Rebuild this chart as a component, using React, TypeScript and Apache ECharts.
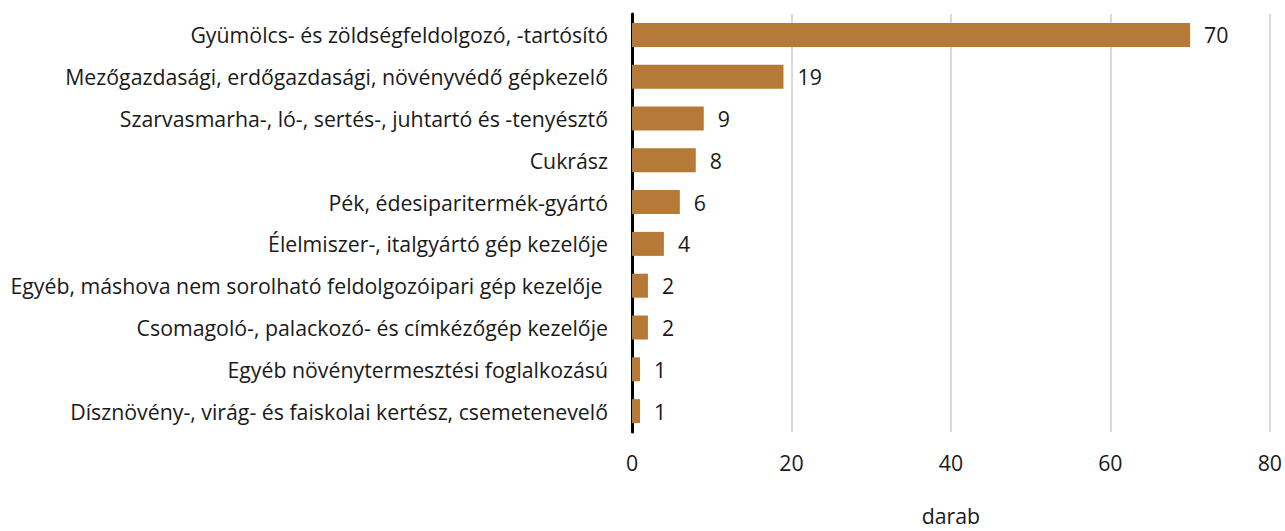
import React, { useEffect, useRef } from "react";
import * as echarts from "echarts";

const categories = [
  "Gyümölcs- és zöldségfeldolgozó, -tartósító",
  "Mezőgazdasági, erdőgazdasági, növényvédő gépkezelő",
  "Szarvasmarha-, ló-, sertés-, juhtartó és -tenyésztő",
  "Cukrász",
  "Pék, édesiparitermék-gyártó",
  "Élelmiszer-, italgyártó gép kezelője",
  "Egyéb, máshova nem sorolható feldolgozóipari gép kezelője ",
  "Csomagoló-, palackozó- és címkézőgép kezelője",
  "Egyéb növénytermesztési foglalkozású",
  "Dísznövény-, virág- és faiskolai kertész, csemetenevelő",
];
const values = [70, 19, 9, 8, 6, 4, 2, 2, 1, 1];
const axisName = "darab";

const FONT = "'Open Sans', sans-serif";
const FS = 21.3;

export default function App() {
  const ref = useRef<HTMLDivElement>(null);
  useEffect(() => {
    const chart = echarts.init(ref.current!, null, { renderer: "svg" });
    chart.setOption({
      animation: false,
      textStyle: { fontFamily: FONT },
      grid: { left: 632, width: 640, top: 14, height: 427, containLabel: false },
      xAxis: {
        type: "value",
        min: 0,
        max: 80,
        interval: 20,
        name: axisName,
        nameLocation: "middle",
        nameGap: 73,
        nameTextStyle: { fontSize: FS, color: "#1a1a1a", fontFamily: FONT },
        axisLine: { show: false },
        axisTick: { show: false },
        axisLabel: { fontSize: FS, color: "#1a1a1a", margin: 20, fontFamily: FONT },
        splitLine: { show: true, lineStyle: { color: "#d9d9d9", width: 2 } },
      },
      yAxis: {
        type: "category",
        data: categories,
        inverse: true,
        axisLine: { show: true, lineStyle: { color: "#000", width: 3 } },
        axisTick: { show: false },
        axisLabel: { fontSize: FS, color: "#1a1a1a", margin: 24, fontFamily: FONT },
      },
      series: [
        {
          type: "bar",
          data: values,
          barWidth: 24,
          itemStyle: { color: "#b57a37" },
          label: {
            show: true,
            position: "right",
            distance: 14,
            fontSize: FS,
            color: "#1a1a1a",
            fontFamily: FONT,
          },
        },
      ],
    });
    return () => chart.dispose();
  }, []);
  return (
    <div
      ref={ref}
      style={{ position: "absolute", left: 0, top: 0, width: 1285, height: 531, background: "#fff" }}
    />
  );
}
